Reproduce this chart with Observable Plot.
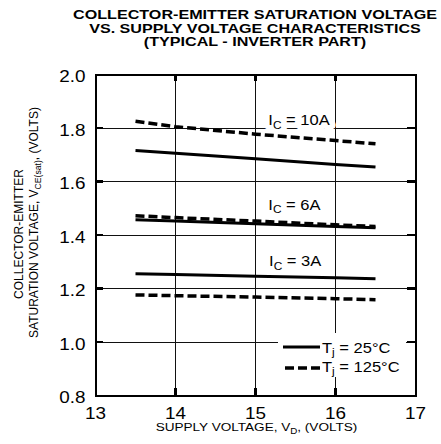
<!DOCTYPE html>
<html><head><meta charset="utf-8">
<script src="https://cdn.jsdelivr.net/npm/d3@7"></script>
<script src="https://cdn.jsdelivr.net/npm/@observablehq/plot@0.6"></script>
<style>
body{margin:0;background:#fff;font-family:"Liberation Sans",Arial,sans-serif;}
#wrap{position:relative;width:441px;height:444px;overflow:hidden;background:#fff}
#title{height:50px;box-sizing:border-box;padding-top:8px;font-weight:bold;font-size:13px;line-height:13.7px;text-align:center;width:372px;margin-left:69px;transform:scaleX(1.24);transform-origin:50% 0;white-space:nowrap;color:#000}
#chart svg{display:block}
</style></head><body>
<div id="wrap">
<div id="title">COLLECTOR-EMITTER SATURATION VOLTAGE<br>VS. SUPPLY VOLTAGE CHARACTERISTICS<br>(TYPICAL - INVERTER PART)</div>
<div id="chart"></div>
</div>
<script>
// ---- data ----
const xTicks = [13, 14, 15, 16, 17];
const yTicks = [0.8, 1.0, 1.2, 1.4, 1.6, 1.8, 2.0];
const xGrid = [14, 15, 16];
const yGrid = [1.0, 1.2, 1.4, 1.6, 1.8];
const supplyV = [13.5, 14, 15, 16, 16.5];
const vce10A_25C  = [1.716, 1.706, 1.685, 1.664, 1.654];
const vce10A_125C = [1.825, 1.805, 1.777, 1.753, 1.741];
const vce6A_25C   = [1.457, 1.452, 1.442, 1.432, 1.427];
const vce6A_125C  = [1.472, 1.465, 1.452, 1.438, 1.432];
const vce3A_25C   = [1.255, 1.252, 1.246, 1.240, 1.236];
const vce3A_125C  = [1.176, 1.173, 1.168, 1.162, 1.158];
const labelText = ["I_{C} = 10A", "I_{C} = 6A", "I_{C} = 3A"];
const labelX = [15.16, 15.16, 15.17];
const labelY = [1.829, 1.512, 1.301];
const legendText = ["T_{j} = 25°C", "T_{j} = 125°C"];
const xTitle = "SUPPLY VOLTAGE, V_{D}, (VOLTS)";
const yTitle1 = "COLLECTOR-EMITTER";
const yTitle2 = "SATURATION VOLTAGE, V_{CE(sat)}, (VOLTS)";

const curves = [
  {ic: "10A", tj: 25, v: vce10A_25C}, {ic: "10A", tj: 125, v: vce10A_125C},
  {ic: "6A", tj: 25, v: vce6A_25C},   {ic: "6A", tj: 125, v: vce6A_125C},
  {ic: "3A", tj: 25, v: vce3A_25C},   {ic: "3A", tj: 125, v: vce3A_125C}
];
const rows = curves.flatMap(c => supplyV.map((x, i) => ({x, y: c.v[i], ic: c.ic, tj: c.tj})));
const labels = labelText.map((t, i) => ({t, x: labelX[i], y: labelY[i]}));

const W = 441, H = 394, mT = 24, mB = 49, mL = 95, mR = 26;
const innerW = W - mL - mR, innerH = H - mT - mB;
const crisp = {shapeRendering: "crispEdges"};

const chart = Plot.plot({
  width: W, height: H,
  marginTop: mT, marginBottom: mB, marginLeft: mL, marginRight: mR,
  style: {fontFamily: "'Liberation Sans', Arial, sans-serif", fontSize: "16px", background: "white", color: "black", overflow: "visible"},
  x: {domain: [13, 17]},
  y: {domain: [0.8, 2.0]},
  marks: [
    Plot.ruleX(xGrid, {stroke: "#111", strokeWidth: 1, ...crisp}),
    Plot.ruleY(yGrid, {stroke: "#111", strokeWidth: 1, ...crisp}),
    Plot.ruleX(xGrid, {stroke: "black", strokeWidth: 2.5, insetBottom: innerH - 7, ...crisp}),
    Plot.ruleX(xGrid, {stroke: "black", strokeWidth: 2.5, insetTop: innerH - 7, ...crisp}),
    Plot.ruleY(yGrid, {stroke: "black", strokeWidth: 2.5, insetRight: innerW - 8, ...crisp}),
    Plot.ruleY(yGrid, {stroke: "black", strokeWidth: 2.5, insetLeft: innerW - 8, ...crisp}),
    // white backing behind the curve labels, then the labels themselves
    Plot.text(labels, {x: "x", y: "y", text: "t", textAnchor: "start", fontSize: 14, fill: "white", stroke: "white", strokeWidth: 10}),
    Plot.text(labels, {x: "x", y: "y", text: "t", textAnchor: "start", fontSize: 14, fill: "black"}),
    Plot.line(rows.filter(d => d.tj === 25), {x: "x", y: "y", z: "ic", stroke: "black", strokeWidth: 3, strokeLinecap: "butt"}),
    Plot.line(rows.filter(d => d.tj === 125), {x: "x", y: "y", z: "ic", stroke: "black", strokeWidth: 3.5, strokeDasharray: "9,4", strokeLinecap: "butt"}),
    Plot.axisX({ticks: xTicks, tickFormat: d3.format("d"), tickSize: 0, tickPadding: 12, fontSize: 16, label: null}),
    Plot.axisY({ticks: yTicks, tickFormat: d3.format(".1f"), tickSize: 0, tickPadding: 10, fontSize: 16, dy: 2.5, label: null}),
    Plot.frame({stroke: "black", strokeWidth: 2, ...crisp})
  ]
});
document.getElementById("chart").append(chart);

const svg = d3.select(chart);

// axis titles
svg.append("text").attr("class", "rich").attr("transform", "translate(256.5,381)")
  .attr("text-anchor", "middle").attr("font-size", 11.5).attr("fill", "black").text(xTitle);
svg.append("text").attr("class", "rich norot").attr("transform", "translate(23,184) rotate(-90)")
  .attr("text-anchor", "middle").attr("font-size", 12).attr("fill", "black").text(yTitle1);
svg.append("text").attr("class", "rich norot").attr("transform", "translate(37.5,172.5) rotate(-90)")
  .attr("text-anchor", "middle").attr("font-size", 12).attr("fill", "black").text(yTitle2);

// legend
const lg = svg.append("g");
lg.append("rect").attr("x", 278).attr("y", 283).attr("width", 128).attr("height", 44).attr("fill", "white");
lg.append("line").attr("x1", 283).attr("x2", 320).attr("y1", 297).attr("y2", 297).attr("stroke", "black").attr("stroke-width", 3);
lg.append("line").attr("x1", 285).attr("x2", 320).attr("y1", 318).attr("y2", 318).attr("stroke", "black").attr("stroke-width", 3.5).attr("stroke-dasharray", "9,4");
legendText.forEach((t, i) => {
  lg.append("text").attr("transform", `translate(322,${302.5 + i * 19})`).attr("text-anchor", "start")
    .attr("font-size", 14).attr("fill", "black").text(t);
});

// subscripts
function rich(el) {
  const s = el.textContent;
  if (!s.includes("_{")) return;
  const fs = parseFloat(getComputedStyle(el).fontSize) || 12;
  const shift = fs * 0.28;
  el.textContent = "";
  const re = /_\{([^}]*)\}/g;
  let last = 0, m, pending = 0;
  const add = (txt, sub) => {
    if (!txt) return;
    const ts = document.createElementNS("http://www.w3.org/2000/svg", "tspan");
    ts.textContent = txt;
    if (sub) { ts.setAttribute("font-size", (fs * 0.72).toFixed(2)); ts.setAttribute("dy", shift); pending = -shift; }
    else if (pending) { ts.setAttribute("dy", pending); pending = 0; }
    el.appendChild(ts);
  };
  while ((m = re.exec(s))) { add(s.slice(last, m.index), false); add(m[1], true); last = re.lastIndex; }
  add(s.slice(last), false);
}
chart.querySelectorAll("text").forEach(rich);

// horizontal widening (about each text's anchor) to match the reference typeface proportions
const STRETCH = 1.18;
chart.querySelectorAll("text").forEach(el => {
  if (el.classList.contains("norot")) return;
  const t = el.getAttribute("transform");
  if (t) el.setAttribute("transform", t + ` scale(${STRETCH},1)`);
  else {
    const x = +el.getAttribute("x") || 0;
    el.setAttribute("transform", `translate(${x},0) scale(${STRETCH},1) translate(${-x},0)`);
  }
});
</script>
</body></html>
